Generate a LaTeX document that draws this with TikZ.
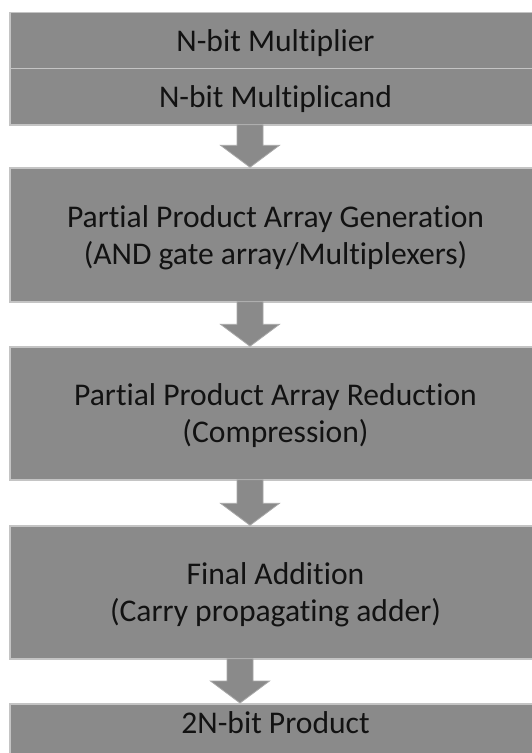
\documentclass[tikz,border=0pt]{standalone}
\usepackage{fontspec}
\setmainfont{Carlito}[Ligatures={NoCommon}]
\usetikzlibrary{calc}
\definecolor{boxgray}{RGB}{138,138,138}
\definecolor{boxedge}{RGB}{196,196,196}
\definecolor{arrowedge}{RGB}{168,168,168}
\definecolor{ink}{RGB}{18,18,18}
\tikzset{
  box/.style={rectangle, fill=boxgray, draw=boxedge, line width=1.5pt,
    minimum width=531pt, inner sep=0pt, align=center, text=ink, text depth=0pt,
    font=\fontsize{31.6}{37}\selectfont},
  barrow/.style={fill=boxgray, draw=arrowedge, line width=0.8pt, line join=miter}
}
\newcommand\blockarrow[3]{%
  \draw[barrow]
    ($(#1.south -| #3)+(-13,-1)$) -- ($(#1.south -| #3)+(13,-1)$)
    -- ($(#2.north -| #3)+(13,-22)$) -- ($(#2.north -| #3)+(29.5,-22)$)
    -- (#2.north -| #3)
    -- ($(#2.north -| #3)+(-29.5,-22)$) -- ($(#2.north -| #3)+(-13,-22)$) -- cycle;%
}
\begin{document}
\begin{tikzpicture}[x=1pt,y=-1pt]
\useasboundingbox (0,0) rectangle (532,753);
\fill[white] (0,0) rectangle (532,753);
\clip (0,0) rectangle (532,753);
\node[box, minimum height=55.6pt] (mplier) at (275.5,40.5) {N-bit Multiplier};
\node[box, minimum height=56.7pt] (mcand) at (275.5,96.7) {N-bit Multiplicand};
\node[box, minimum height=134pt] (gen) at (275.5,235) {Partial Product Array Generation\\(AND gate array/Multiplexers)};
\node[box, minimum height=133pt] (red) at (275.5,413.5) {Partial Product Array Reduction\\(Compression)};
\node[box, minimum height=133pt] (add) at (275.5,592.5) {Final Addition\\(Carry propagating adder)};
\node[box, minimum height=70pt, anchor=north] (prod) at (275.5,703) {};
\node[text=ink, inner sep=0pt, text depth=0pt, font=\fontsize{31.6}{37}\selectfont] (prodtext) at (275.5,723) {2N-bit Product};
\coordinate (ax) at (250,0);
\coordinate (bx) at (240,0);
\blockarrow{mcand}{gen}{ax}
\blockarrow{gen}{red}{ax}
\blockarrow{red}{add}{ax}
\blockarrow{add}{prod}{bx}
\end{tikzpicture}
\end{document}
